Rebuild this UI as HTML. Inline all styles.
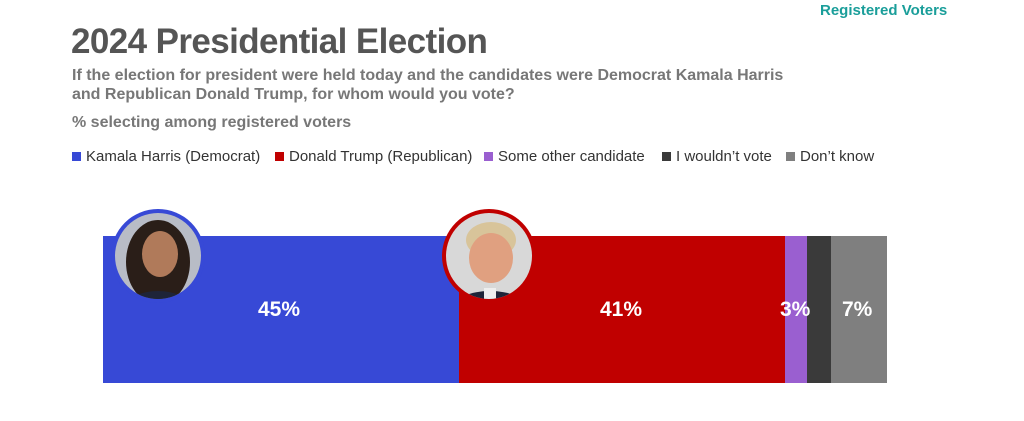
<!DOCTYPE html>
<html><head><meta charset="utf-8"><style>
body{margin:0;width:1024px;height:421px;background:#fff;position:relative;overflow:hidden;font-family:"Liberation Sans",sans-serif}
.a{position:absolute;white-space:nowrap}
.sq{display:inline-block;width:9px;height:9px;margin-right:5px;vertical-align:0px}
.lg{top:148px;font-size:15px;color:#333}
.pct{color:#fff;font-weight:bold;font-size:21px;top:298px}
</style></head><body>
<div class="a" style="left:820px;top:2px;color:#1a9e9a;font-weight:bold;font-size:15px">Registered Voters</div>
<div class="a" style="left:71px;top:22px;color:#555;font-weight:bold;font-size:35px;letter-spacing:-0.6px">2024 Presidential Election</div>
<div class="a" style="left:72px;top:66px;color:#777;font-weight:bold;font-size:16px;line-height:19px">If the election for president were held today and the candidates were Democrat Kamala Harris<br>and Republican Donald Trump, for whom would you vote?</div>
<div class="a" style="left:72px;top:114px;color:#777;font-weight:bold;font-size:16px">% selecting among registered voters</div>
<div class="a lg" style="left:72px"><span class="sq" style="background:#3749d6"></span>Kamala Harris (Democrat)</div>
<div class="a lg" style="left:275px"><span class="sq" style="background:#c00000"></span>Donald Trump (Republican)</div>
<div class="a lg" style="left:484px"><span class="sq" style="background:#9a5fd0"></span>Some other candidate</div>
<div class="a lg" style="left:662px"><span class="sq" style="background:#3a3a3a"></span>I wouldn’t vote</div>
<div class="a lg" style="left:786px"><span class="sq" style="background:#7f7f7f"></span>Don’t know</div>

<div class="a" style="left:103px;top:236px;width:356px;height:147px;background:#3749d6"></div>
<div class="a" style="left:459px;top:236px;width:326px;height:147px;background:#c00000"></div>
<div class="a" style="left:785px;top:236px;width:22px;height:147px;background:#9a5fd0"></div>
<div class="a" style="left:807px;top:236px;width:24px;height:147px;background:#3a3a3a"></div>
<div class="a" style="left:831px;top:236px;width:56px;height:147px;background:#7f7f7f"></div>

<svg class="a" style="left:0;top:0" width="1024" height="421">
<defs>
<clipPath id="c1"><circle cx="158" cy="256" r="43"/></clipPath>
<clipPath id="c2"><circle cx="489" cy="256" r="43"/></clipPath>
</defs>
<circle cx="158" cy="256" r="47" fill="#3749d6"/>
<g clip-path="url(#c1)">
<rect x="100" y="200" width="120" height="120" fill="#b8bcc6"/>
<ellipse cx="158" cy="262" rx="32" ry="42" fill="#2a1e18"/>
<ellipse cx="160" cy="254" rx="18" ry="23" fill="#b07a5a"/>
<ellipse cx="158" cy="305" rx="30" ry="14" fill="#1e2438"/>
</g>
<circle cx="489" cy="256" r="47" fill="#c00000"/>
<g clip-path="url(#c2)">
<rect x="430" y="200" width="120" height="120" fill="#d8d8d8"/>
<ellipse cx="491" cy="240" rx="25" ry="18" fill="#d8c49a"/>
<ellipse cx="491" cy="258" rx="22" ry="25" fill="#e0a080"/>
<ellipse cx="490" cy="307" rx="36" ry="16" fill="#1e2438"/>
<rect x="484" y="288" width="12" height="12" fill="#eee"/>
</g>
</svg>

<div class="a pct" style="left:258px">45%</div>
<div class="a pct" style="left:600px">41%</div>
<div class="a pct" style="left:780px">3%</div>
<div class="a pct" style="left:842px">7%</div>
</body></html>
